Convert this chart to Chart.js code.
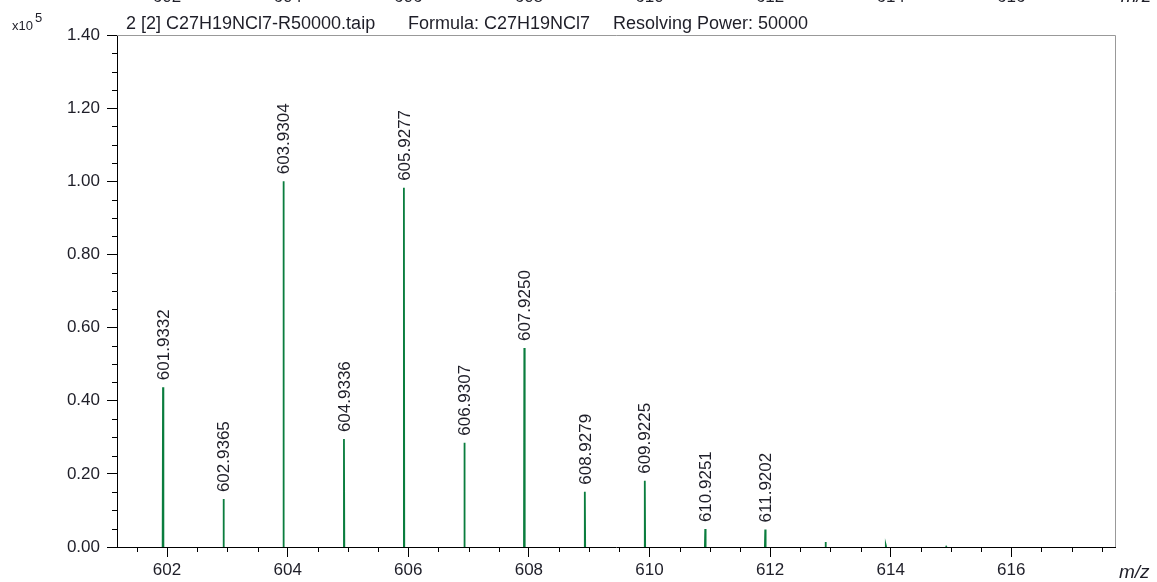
<!DOCTYPE html>
<html>
<head>
<meta charset="utf-8">
<script src="https://cdn.jsdelivr.net/npm/chart.js@4.4.1/dist/chart.umd.min.js"></script>
<style>
  html, body { margin: 0; padding: 0; background: #fff; }
</style>
</head>
<body>
<canvas id="chartSpectrum" width="1157" height="582"></canvas>
<script>
// labelled isotope peaks: m/z and intensity (x10^5)
const peakMz = [601.9332, 602.9365, 603.9304, 604.9336, 605.9277, 606.9307, 607.9250, 608.9279, 609.9225, 610.9251, 611.9202];
const peakIntensity = [0.437, 0.131, 1.000, 0.295, 0.982, 0.285, 0.544, 0.151, 0.181, 0.049, 0.048];
// tiny unlabelled peaks in the tail
const minorMz = [612.92, 613.92, 614.92];
const minorIntensity = [0.014, 0.004, 0.001];

const xTickLabels = [602, 604, 606, 608, 610, 612, 614, 616];
const yTickLabels = [0.00, 0.20, 0.40, 0.60, 0.80, 1.00, 1.20, 1.40];
const titleParts = ['2 [2] C27H19NCl7-R50000.taip', 'Formula: C27H19NCl7', 'Resolving Power: 50000'];

const FONT = '"Liberation Sans", Arial, sans-serif';
const TEXT = '#1e1e28';
const GREEN = '#0a7d3e';

// each peak as a narrow stick profile, broken between peaks
const allMz = peakMz.concat(minorMz);
const allInt = peakIntensity.concat(minorIntensity);
const profile = [];
allMz.forEach((mz, i) => {
  profile.push({ x: mz - 0.006, y: 0 });
  profile.push({ x: mz, y: allInt[i] });
  profile.push({ x: mz + 0.006, y: 0 });
  profile.push({ x: mz + 0.02, y: null });
});

const isWhole = v => Math.abs(v - Math.round(v)) < 1e-6;
const isXMajor = v => isWhole(v) && xTickLabels.includes(Math.round(v));
const isYMajor = v => yTickLabels.some(t => Math.abs(t - v) < 1e-6);

const decorations = {
  id: 'decorations',
  afterDatasetsDraw(chart) {
    const { ctx, scales: { x, y } } = chart;
    ctx.save();
    ctx.fillStyle = TEXT;
    ctx.font = '17px ' + FONT;
    ctx.textAlign = 'left';
    ctx.textBaseline = 'middle';
    peakMz.forEach((mz, i) => {
      const px = x.getPixelForValue(mz);
      const py = y.getPixelForValue(peakIntensity[i]);
      ctx.save();
      ctx.translate(px, py - 7);
      ctx.rotate(-Math.PI / 2);
      ctx.fillText(mz.toFixed(4), 0, 1);
      ctx.restore();
    });
    ctx.restore();
  },
  afterDraw(chart) {
    const { ctx, chartArea: a, scales: { x, y } } = chart;
    ctx.save();
    // frame top and right
    ctx.strokeStyle = '#999';
    ctx.lineWidth = 1;
    ctx.beginPath();
    ctx.moveTo(a.left, a.top + 0.5);
    ctx.lineTo(a.right + 0.5, a.top + 0.5);
    ctx.lineTo(a.right + 0.5, a.bottom);
    ctx.stroke();

    // minor ticks
    ctx.strokeStyle = '#000';
    ctx.beginPath();
    x.ticks.forEach(t => {
      if (isXMajor(t.value)) return;
      const px = Math.round(x.getPixelForValue(t.value)) + 0.5;
      ctx.moveTo(px, a.bottom);
      ctx.lineTo(px, a.bottom + 5);
    });
    y.ticks.forEach(t => {
      if (isYMajor(t.value)) return;
      const py = Math.round(y.getPixelForValue(t.value)) + 0.5;
      ctx.moveTo(a.left, py);
      ctx.lineTo(a.left - 5, py);
    });
    ctx.stroke();

    ctx.fillStyle = TEXT;
    // title
    ctx.font = '18px ' + FONT;
    ctx.textBaseline = 'alphabetic';
    ctx.textAlign = 'left';
    ctx.fillText(titleParts[0], 126, 29);
    ctx.fillText(titleParts[1], 408, 29);
    ctx.fillText(titleParts[2], 613, 29);

    // x10^5
    ctx.font = '13px ' + FONT;
    ctx.fillText('x10', 12, 30);
    ctx.font = '13px ' + FONT;
    ctx.fillText('5', 35, 22);

    // axis unit
    ctx.font = 'italic 19px ' + FONT;
    ctx.fillText('m/z', 1119, 578);

    // bottom edge of the spectrum above, cut off by the frame
    ctx.font = '17px ' + FONT;
    ctx.textAlign = 'center';
    xTickLabels.forEach(v => {
      ctx.fillText(String(v), x.getPixelForValue(v), 2);
    });
    ctx.font = 'italic 19px ' + FONT;
    ctx.fillText('m/z', 1136, 2);
    ctx.restore();
  }
};

new Chart(document.getElementById('chartSpectrum').getContext('2d'), {
  type: 'line',
  data: {
    datasets: [{
      data: profile,
      borderColor: GREEN,
      borderWidth: 1.8,
      pointRadius: 0,
      tension: 0,
      spanGaps: false,
      fill: false
    }]
  },
  options: {
    responsive: false,
    animation: false,
    layout: { padding: { top: 35, right: 42, left: 0, bottom: 0 } },
    plugins: { legend: { display: false }, tooltip: { enabled: false } },
    scales: {
      x: {
        type: 'linear',
        min: 601.17,
        max: 617.72,
        afterFit: s => { s.height = 35; },
        border: { display: true, color: '#000', width: 1 },
        grid: {
          drawOnChartArea: false,
          drawTicks: true,
          tickLength: 10,
          color: c => (c.tick && isXMajor(c.tick.value)) ? '#000' : 'rgba(0,0,0,0)'
        },
        ticks: {
          stepSize: 0.5,
          includeBounds: false,
          autoSkip: false,
          maxRotation: 0,
          padding: 3,
          color: TEXT,
          font: { family: FONT, size: 17 },
          callback: v => isXMajor(v) ? String(Math.round(v)) : ''
        }
      },
      y: {
        min: 0,
        max: 1.4,
        afterFit: s => { s.width = 117; },
        border: { display: true, color: '#000', width: 1 },
        grid: {
          drawOnChartArea: false,
          drawTicks: true,
          tickLength: 10,
          color: c => (c.tick && isYMajor(c.tick.value)) ? '#000' : 'rgba(0,0,0,0)'
        },
        ticks: {
          stepSize: 0.05,
          includeBounds: false,
          autoSkip: false,
          padding: 7,
          color: TEXT,
          font: { family: FONT, size: 17 },
          callback: v => isYMajor(v) ? v.toFixed(2) : ''
        }
      }
    }
  },
  plugins: [decorations]
});
</script>
</body>
</html>
